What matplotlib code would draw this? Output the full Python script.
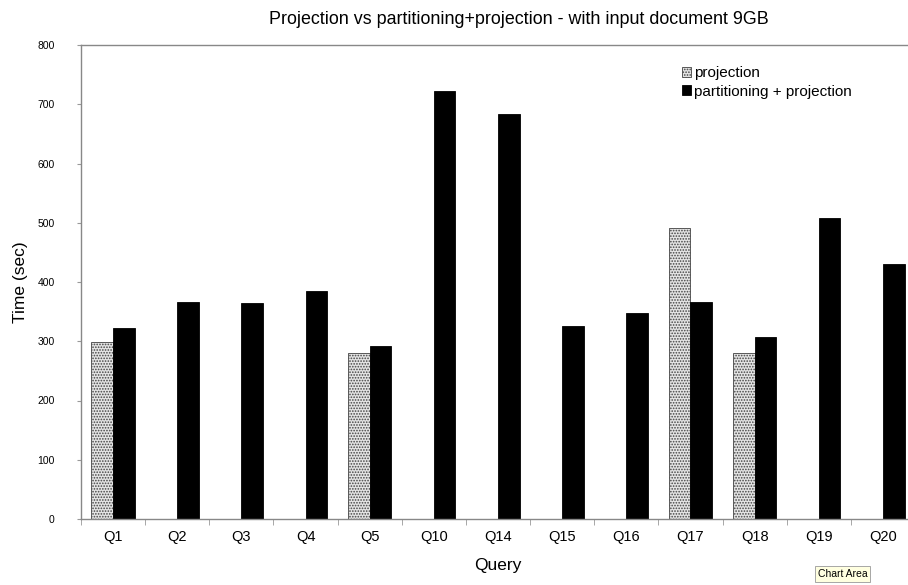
import matplotlib
matplotlib.use("Agg")
import matplotlib.pyplot as plt
import numpy as np

plt.rcParams['font.family'] = ['Liberation Sans', 'DejaVu Sans']
plt.rcParams['hatch.linewidth'] = 0.8

queries = ["Q1", "Q2", "Q3", "Q4", "Q5", "Q10", "Q14", "Q15", "Q16", "Q17", "Q18", "Q19", "Q20"]
projection = [299, 0, 0, 0, 281, 0, 0, 0, 0, 491, 281, 0, 0]
partition_projection = [323, 367, 365, 385, 292, 722, 683, 325, 348, 367, 307, 508, 430]
yticks = [0, 100, 200, 300, 400, 500, 600, 700, 800]

fig = plt.figure(figsize=(9.08, 5.85), dpi=100)
ax = fig.add_axes([81/908, 1-519/585, (915-81)/908, (519-45)/585])

x = np.arange(len(queries))
w = 0.337
ax.bar(x - w/2, projection, width=w, facecolor='#e4e4e4', edgecolor='#444444',
       hatch='......', linewidth=0.6, label='projection')
ax.bar(x + w/2, partition_projection, width=w, facecolor='black', edgecolor='black',
       linewidth=0.6, label='partitioning + projection')

ax.set_xlim(-0.5, len(queries) - 0.5)
ax.set_ylim(0, 800)
ax.set_yticks(yticks)
ax.set_yticklabels([str(v) for v in yticks], fontsize=7.5)
ax.set_xticks(x)
ax.set_xticklabels(queries, fontsize=10.5)
ax.set_xticks(np.arange(-0.5, len(queries)), minor=True)
ax.tick_params(axis='x', which='major', length=0, pad=8)
ax.tick_params(axis='x', which='minor', length=4, color='#999999', direction='out')
ax.tick_params(axis='y', length=3, color='#999999', pad=16)
for s in ax.spines.values():
    s.set_color('#888888')
    s.set_linewidth(1.0)

ax.set_xlabel('Query', fontsize=12.5, labelpad=10)
ax.set_ylabel('Time (sec)', fontsize=12.5, labelpad=7)
fig.text(519/908, 1-20/585, 'Projection vs partitioning+projection - with input document 9GB',
         ha='center', va='center', fontsize=12.9)

leg = ax.legend(loc='upper left', bbox_to_anchor=((676-81)/834, 1-(60-45)/474),
                frameon=False, fontsize=11, handlelength=0.6, handleheight=0.6,
                handletextpad=0.2, labelspacing=0.3, borderaxespad=0)

fig.text(818/908, 1-574/585, 'Chart Area', fontsize=7.5, ha='left', va='center',
         bbox=dict(boxstyle='square,pad=0.25', facecolor='#ffffe0', edgecolor='#999999', linewidth=0.6))

fig.savefig('out.png', dpi=100)
